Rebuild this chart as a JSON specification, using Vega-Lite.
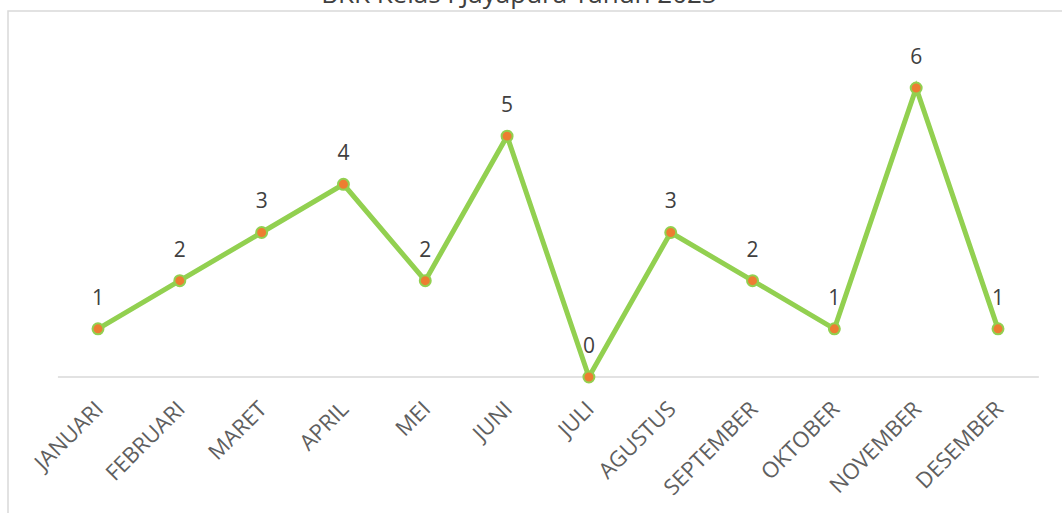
{
  "$schema": "https://vega.github.io/schema/vega-lite/v6.json",
  "width": 1056,
  "height": 504,
  "autosize": {"type": "none"},
  "padding": {"left": 8, "top": 11, "right": -2, "bottom": -2},
  "background": "white",
  "config": {
    "view": {"stroke": "#d9d9d9", "strokeWidth": 1.5},
    "font": "Open Sans"
  },
  "title": {
    "text": "BKK Kelas I Jayapura Tahun 2023",
    "anchor": "middle",
    "frame": "group",
    "baseline": "alphabetic",
    "offset": 0,
    "dx": -17,
    "dy": 18,
    "fontSize": 26,
    "fontWeight": "normal",
    "color": "#404040",
    "font": "Open Sans"
  },
  "data": {
    "values": [
      {"month": "JANUARI", "value": 1},
      {"month": "FEBRUARI", "value": 2},
      {"month": "MARET", "value": 3},
      {"month": "APRIL", "value": 4},
      {"month": "MEI", "value": 2},
      {"month": "JUNI", "value": 5},
      {"month": "JULI", "value": 0},
      {"month": "AGUSTUS", "value": 3},
      {"month": "SEPTEMBER", "value": 2},
      {"month": "OKTOBER", "value": 1},
      {"month": "NOVEMBER", "value": 6},
      {"month": "DESEMBER", "value": 1}
    ]
  },
  "resolve": {"scale": {"x": "independent"}, "axis": {"x": "independent"}},
  "layer": [
    {
      "data": {"values": [{"start": -0.49, "end": 11.5, "value": 0}]},
      "mark": {"type": "rule", "color": "#d9d9d9", "strokeWidth": 1.5},
      "encoding": {
        "x": {"field": "start", "type": "quantitative", "scale": {"domain": [-1.1, 11.807], "nice": false, "zero": false}, "axis": null},
        "x2": {"field": "end"},
        "y": {"field": "value", "type": "quantitative", "scale": {"domain": [-2.865, 7.598], "nice": false, "zero": false}, "axis": null}
      }
    },
    {
      "encoding": {
        "x": {
          "field": "month", "type": "nominal", "sort": null,
          "scale": {"type": "point", "padding": 0.9533, "align": 0.5769, "round": false},
          "axis": {
            "title": null, "labelAngle": -45, "labelAlign": "right", "labelBaseline": "top",
            "ticks": false, "domain": false, "grid": false, "offset": -138, "labelPadding": 21,
            "labelOffset": -6, "labelFontSize": 22, "labelColor": "#5f5f5f", "labelFont": "Open Sans"
          }
        },
        "y": {"field": "value", "type": "quantitative", "scale": {"domain": [-2.865, 7.598], "nice": false, "zero": false}, "axis": null}
      },
      "layer": [
        {"mark": {"type": "line", "color": "#92D050", "strokeWidth": 5}},
        {"mark": {"type": "point", "filled": true, "fill": "#ED7D31", "stroke": "#92D050", "strokeWidth": 2, "size": 120, "opacity": 1}},
        {"mark": {"type": "text", "dy": -24, "baseline": "alphabetic", "fontSize": 21, "color": "#404040", "font": "Open Sans"}, "encoding": {"text": {"field": "value"}}}
      ]
    }
  ]
}
